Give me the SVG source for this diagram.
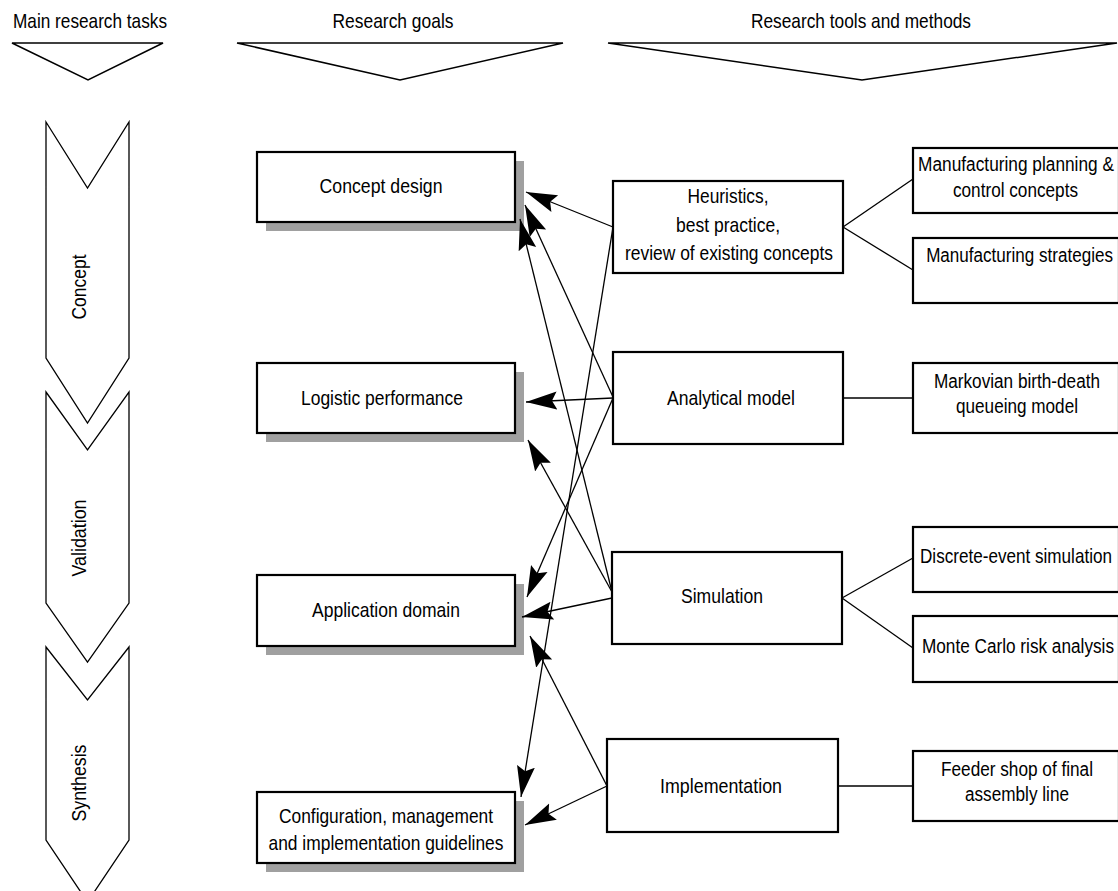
<svg xmlns="http://www.w3.org/2000/svg" width="1118" height="891" viewBox="0 0 1118 891">
  <style>
    text { font-family: "Liberation Sans", Arial, sans-serif; font-size: 21px; fill: #000; }
    .mid { text-anchor: middle; }
    .end { text-anchor: end; }
    .box { fill: #fff; stroke: #000; stroke-width: 2.2; }
    .shadow { fill: #a0a0a0; stroke: none; }
    .phase { fill: #fff; stroke: #000; stroke-width: 1.3; }
    .head { fill: none; stroke: #000; stroke-width: 1.5; }
    .link { fill: none; stroke: #000; stroke-width: 1.3; }
    .arrow { fill: none; stroke: #000; stroke-width: 1.3; marker-end: url(#ah); }
  </style>
  <defs>
    <!-- large filled arrowhead with a slightly notched back -->
    <marker id="ah" markerUnits="userSpaceOnUse" markerWidth="34" markerHeight="22" viewBox="0 -11 34 22" refX="31" refY="0" orient="auto">
      <path d="M31,0 L0,-9 L5,0 L0,9 Z" fill="#000"/>
    </marker>
  </defs>

  <!-- column headers -->
  <g id="header-tasks">
    <text class="mid" x="90" y="28" textLength="154" lengthAdjust="spacingAndGlyphs">Main research tasks</text>
    <polygon class="head" points="12,43 163,43 88,80"/>
  </g>
  <g id="header-goals">
    <text class="mid" x="393" y="28" textLength="121" lengthAdjust="spacingAndGlyphs">Research goals</text>
    <polygon class="head" points="237,43 563,43 400,80"/>
  </g>
  <g id="header-tools">
    <text class="mid" x="861" y="28" textLength="220" lengthAdjust="spacingAndGlyphs">Research tools and methods</text>
    <polygon class="head" points="608,43 1117,43 862,80"/>
  </g>

  <!-- phase chevrons -->
  <g id="phase-concept">
    <polygon class="phase" points="46,122 87.5,188 129,122 129,358 87.5,423 46,358"/>
    <text class="mid" transform="translate(86,287) rotate(-90)" textLength="65" lengthAdjust="spacingAndGlyphs">Concept</text>
  </g>
  <g id="phase-validation">
    <polygon class="phase" points="46,392 87.5,450 129,392 129,603 87.5,662 46,603"/>
    <text class="mid" transform="translate(86,538) rotate(-90)" textLength="77" lengthAdjust="spacingAndGlyphs">Validation</text>
  </g>
  <g id="phase-synthesis">
    <polygon class="phase" points="46,647 87.5,700 129,647 129,840 87.5,902 46,840"/>
    <text class="mid" transform="translate(86,783) rotate(-90)" textLength="77" lengthAdjust="spacingAndGlyphs">Synthesis</text>
  </g>

  <!-- research goals -->
  <g id="goal-concept-design">
    <rect class="shadow" x="266" y="161" width="258" height="70"/>
    <rect class="box" x="257" y="152" width="258" height="70"/>
    <text class="mid" x="381" y="193" textLength="123" lengthAdjust="spacingAndGlyphs">Concept design</text>
  </g>
  <g id="goal-logistic-performance">
    <rect class="shadow" x="266" y="372" width="258" height="70"/>
    <rect class="box" x="257" y="363" width="258" height="70"/>
    <text class="mid" x="382" y="405" textLength="162" lengthAdjust="spacingAndGlyphs">Logistic performance</text>
  </g>
  <g id="goal-application-domain">
    <rect class="shadow" x="266" y="584" width="258" height="71"/>
    <rect class="box" x="257" y="575" width="258" height="71"/>
    <text class="mid" x="386" y="617" textLength="148" lengthAdjust="spacingAndGlyphs">Application domain</text>
  </g>
  <g id="goal-guidelines">
    <rect class="shadow" x="266" y="801" width="258" height="71"/>
    <rect class="box" x="257" y="792" width="258" height="71"/>
    <text class="mid" x="386" y="823" textLength="214" lengthAdjust="spacingAndGlyphs">Configuration, management</text>
    <text class="mid" x="386" y="850" textLength="235" lengthAdjust="spacingAndGlyphs">and implementation guidelines</text>
  </g>

  <!-- research tools -->
  <g id="tool-heuristics">
    <rect class="box" x="613" y="181" width="230" height="92"/>
    <text class="mid" x="728" y="203" textLength="81" lengthAdjust="spacingAndGlyphs">Heuristics,</text>
    <text class="mid" x="728" y="232" textLength="104" lengthAdjust="spacingAndGlyphs">best practice,</text>
    <text class="mid" x="729" y="260" textLength="208" lengthAdjust="spacingAndGlyphs">review of existing concepts</text>
  </g>
  <g id="tool-analytical">
    <rect class="box" x="613" y="352" width="230" height="92"/>
    <text class="mid" x="731" y="405" textLength="128" lengthAdjust="spacingAndGlyphs">Analytical model</text>
  </g>
  <g id="tool-simulation">
    <rect class="box" x="612" y="552" width="230" height="92"/>
    <text class="mid" x="722" y="603" textLength="82" lengthAdjust="spacingAndGlyphs">Simulation</text>
  </g>
  <g id="tool-implementation">
    <rect class="box" x="607" y="739" width="231" height="93"/>
    <text class="mid" x="721" y="793" textLength="122" lengthAdjust="spacingAndGlyphs">Implementation</text>
  </g>

  <!-- methods (boxes run to the right edge of the sheet; labels set condensed) -->
  <g id="method-mpc">
    <rect class="box" x="913" y="148" width="206" height="65"/>
    <text class="end" transform="translate(1114,171) scale(0.823,1)">Manufacturing planning &amp;</text>
    <text class="end" transform="translate(1078,197) scale(0.818,1)">control concepts</text>
  </g>
  <g id="method-strategies">
    <rect class="box" x="913" y="238" width="206" height="65"/>
    <text class="end" transform="translate(1113,262) scale(0.813,1)">Manufacturing strategies</text>
  </g>
  <g id="method-markov">
    <rect class="box" x="913" y="363" width="206" height="70"/>
    <text class="end" transform="translate(1100,388) scale(0.818,1)">Markovian birth-death</text>
    <text class="end" transform="translate(1078,413) scale(0.817,1)">queueing model</text>
  </g>
  <g id="method-des">
    <rect class="box" x="913" y="527" width="206" height="65"/>
    <text class="end" transform="translate(1112,563) scale(0.815,1)">Discrete-event simulation</text>
  </g>
  <g id="method-monte-carlo">
    <rect class="box" x="913" y="616" width="206" height="66"/>
    <text class="end" transform="translate(1114,653) scale(0.819,1)">Monte Carlo risk analysis</text>
  </g>
  <g id="method-feeder">
    <rect class="box" x="913" y="751" width="206" height="70"/>
    <text class="end" transform="translate(1093,776) scale(0.819,1)">Feeder shop of final</text>
    <text class="end" transform="translate(1069,801) scale(0.818,1)">assembly line</text>
  </g>

  <!-- connectors -->
  <g id="connectors">
    <line class="arrow" x1="613" y1="227" x2="526" y2="192"/>
    <line class="arrow" x1="613" y1="397" x2="525" y2="205"/>
    <line class="arrow" x1="612" y1="592" x2="520" y2="219"/>
    <line class="arrow" x1="613" y1="227" x2="521" y2="797"/>
    <line class="arrow" x1="613" y1="398" x2="526" y2="402"/>
    <line class="arrow" x1="612" y1="592" x2="528" y2="440"/>
    <line class="arrow" x1="613" y1="398" x2="527" y2="597"/>
    <line class="arrow" x1="612" y1="598" x2="522" y2="617"/>
    <line class="arrow" x1="607" y1="786" x2="530" y2="636"/>
    <line class="arrow" x1="607" y1="786" x2="525" y2="825"/>

    <line class="link" x1="843" y1="227" x2="913" y2="179"/>
    <line class="link" x1="843" y1="227" x2="913" y2="270"/>
    <line class="link" x1="843" y1="398" x2="913" y2="398"/>
    <line class="link" x1="842" y1="598" x2="913" y2="558"/>
    <line class="link" x1="842" y1="598" x2="913" y2="648"/>
    <line class="link" x1="838" y1="786" x2="913" y2="786"/>
  </g>
</svg>
